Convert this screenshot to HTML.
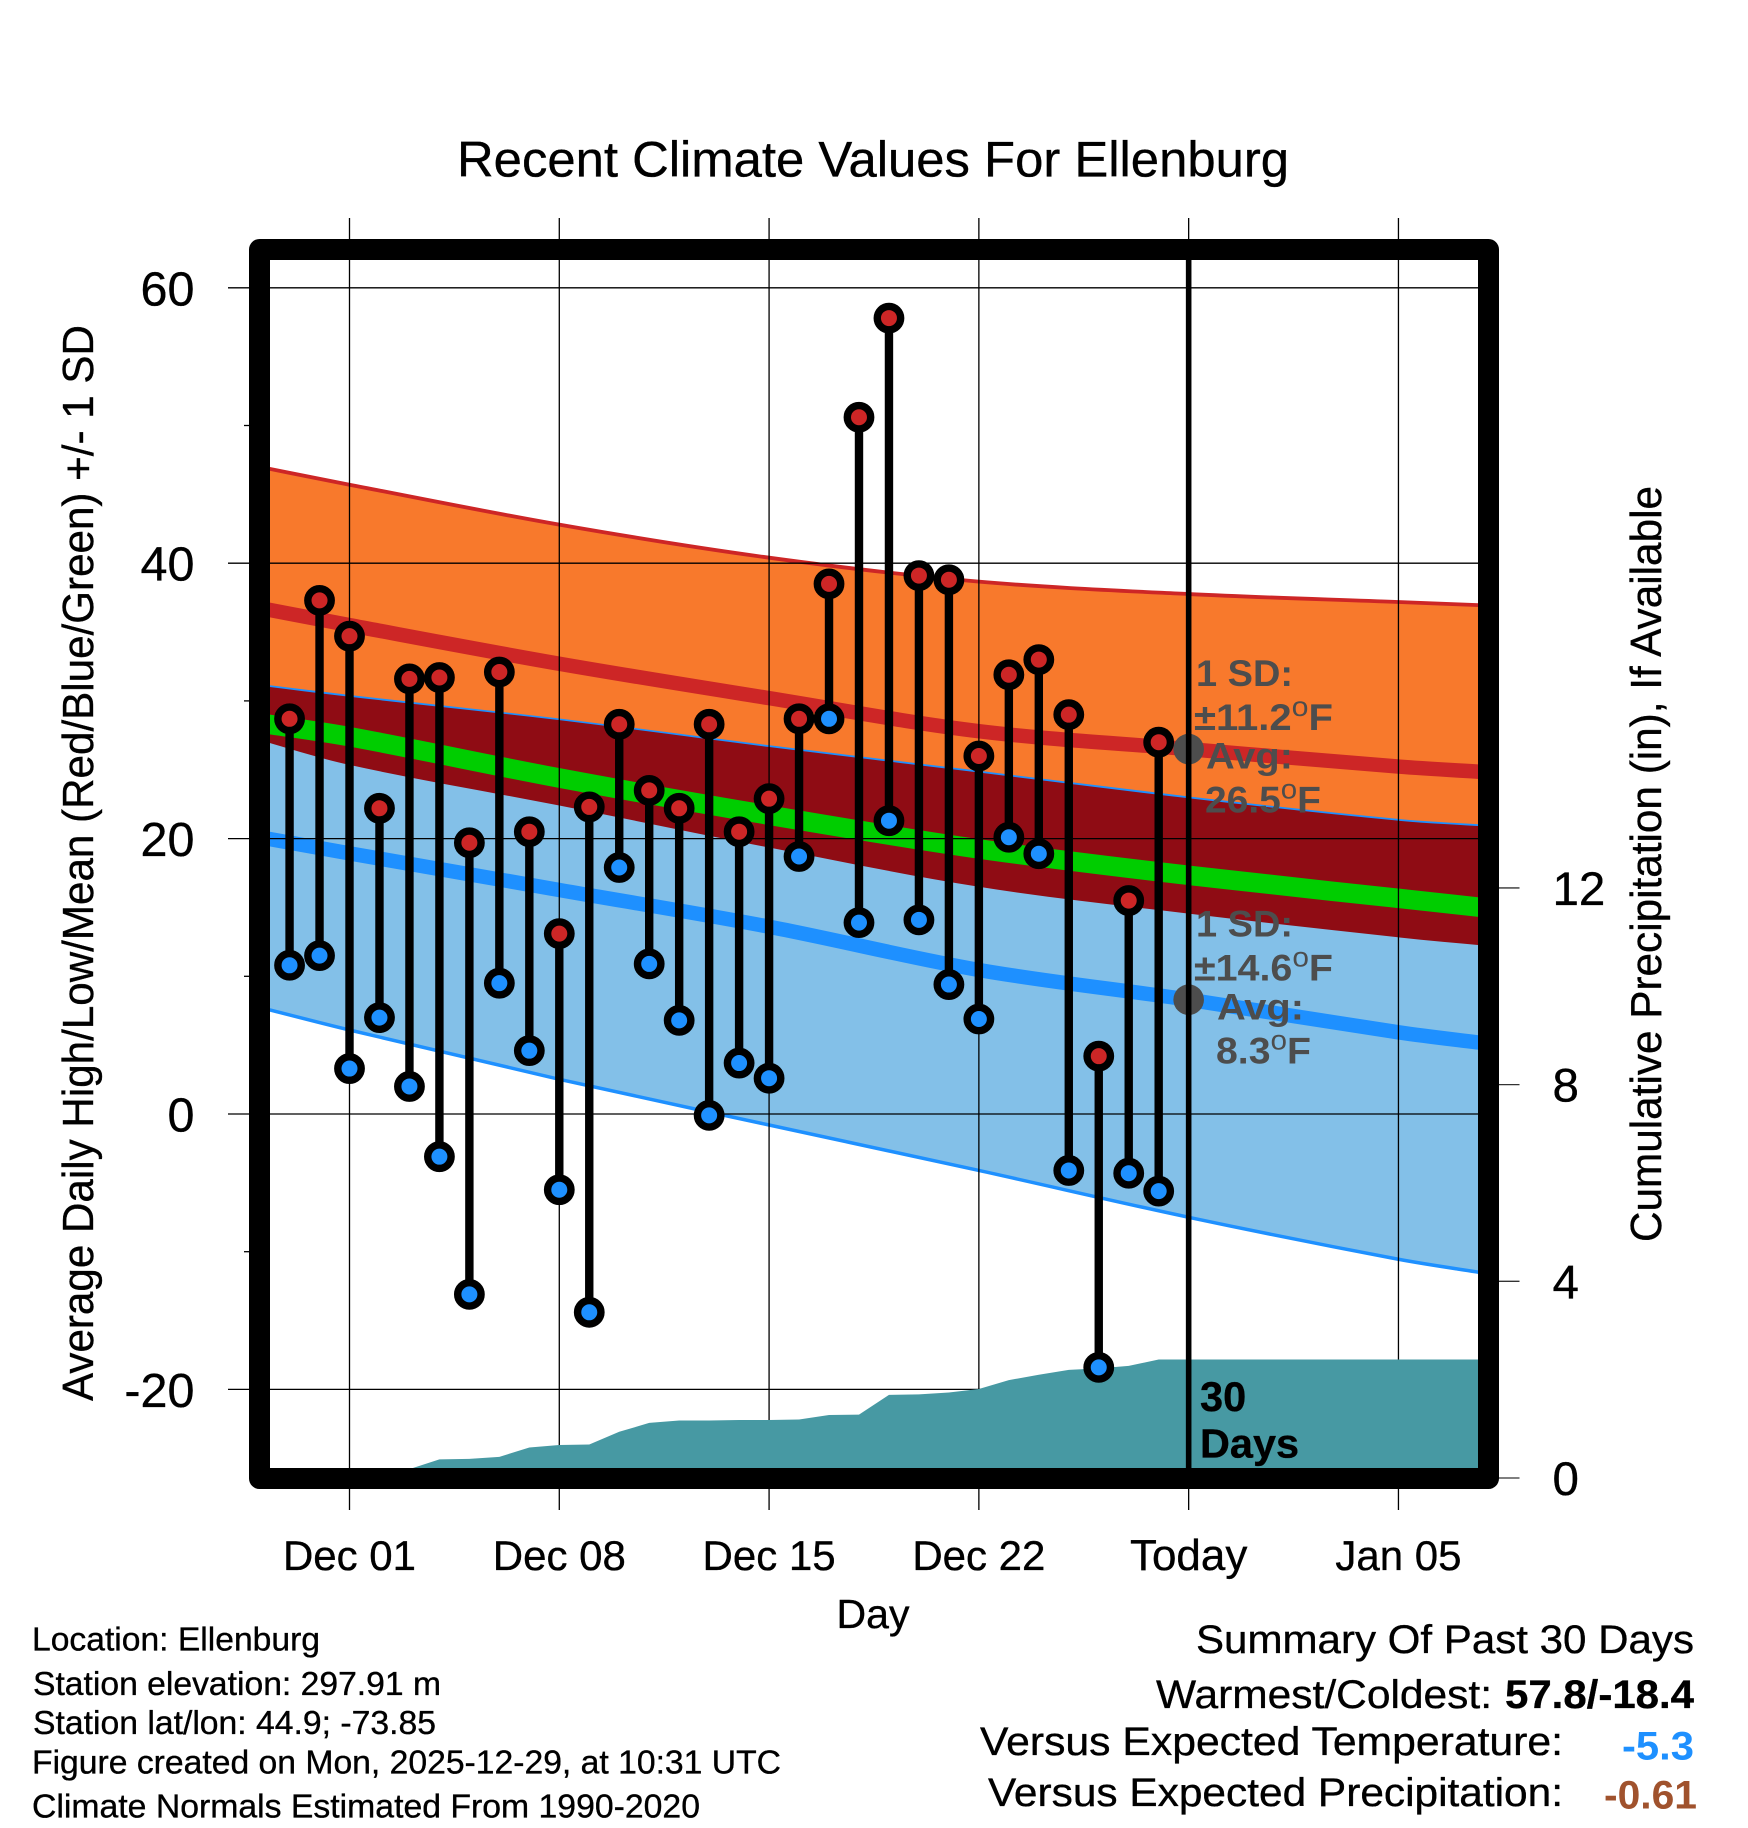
<!DOCTYPE html>
<html lang="en">
<head>
<meta charset="utf-8">
<title>Recent Climate Values For Ellenburg</title>
<style>
  html, body { margin: 0; padding: 0; background: #ffffff; }
  svg { display: block; position: absolute; left: 0; top: 0; }
  text { font-family: "Liberation Sans", Arial, sans-serif; fill: #000000; stroke: #000000; stroke-width: 0.35px; }
  .ann { font-weight: bold; fill: #4d4d4d; stroke: none; font-size: 37px; }
</style>
</head>
<body>
<svg id="chart" xmlns="http://www.w3.org/2000/svg" width="1748" height="1828" viewBox="0 0 1748 1828">
  <rect x="0" y="0" width="1748" height="1828" fill="#ffffff"></rect>
  <g id="layer-bands"></g>
  <g id="layer-grid"></g>
  <g id="layer-precip"></g>
  <g id="layer-dots"></g>
  <g id="layer-marks"></g>
  <g id="layer-today"></g>
  <rect x="259.5" y="249.5" width="1229" height="1229" fill="none" stroke="#000000" stroke-width="21" stroke-linejoin="round"></rect>
  <g id="layer-labels"></g>

  <text x="457" y="176.5" font-size="50" textLength="832" lengthAdjust="spacingAndGlyphs">Recent Climate Values For Ellenburg</text>
  <text x="93" y="1401" font-size="44" textLength="1076" lengthAdjust="spacingAndGlyphs" transform="rotate(-90 93 1401)">Average Daily High/Low/Mean (Red/Blue/Green) +/- 1 SD</text>
  <text x="1661" y="1242" font-size="44" textLength="756" lengthAdjust="spacingAndGlyphs" transform="rotate(-90 1661 1242)">Cumulative Precipitation (in), If Available</text>
  <text x="873" y="1628" font-size="41" text-anchor="middle">Day</text>

  <g>
    <text class="ann" x="1196" y="686" textLength="97" lengthAdjust="spacingAndGlyphs">1 SD:</text>
    <text class="ann" x="1194" y="730" textLength="139" lengthAdjust="spacingAndGlyphs">±11.2<tspan dy="-14" font-size="28" font-weight="normal">o</tspan><tspan dy="14">F</tspan></text>
    <text class="ann" x="1206" y="768.5" textLength="87" lengthAdjust="spacingAndGlyphs">Avg:</text>
    <text class="ann" x="1205" y="812.5" textLength="116" lengthAdjust="spacingAndGlyphs">26.5<tspan dy="-14" font-size="28" font-weight="normal">o</tspan><tspan dy="14">F</tspan></text>
  </g>
  <g>
    <text class="ann" x="1196" y="936.5" textLength="97" lengthAdjust="spacingAndGlyphs">1 SD:</text>
    <text class="ann" x="1194" y="980.5" textLength="139" lengthAdjust="spacingAndGlyphs">±14.6<tspan dy="-14" font-size="28" font-weight="normal">o</tspan><tspan dy="14">F</tspan></text>
    <text class="ann" x="1217" y="1019.5" textLength="87" lengthAdjust="spacingAndGlyphs">Avg:</text>
    <text class="ann" x="1216" y="1063.5" textLength="95" lengthAdjust="spacingAndGlyphs">8.3<tspan dy="-14" font-size="28" font-weight="normal">o</tspan><tspan dy="14">F</tspan></text>
  </g>

  <text x="1200" y="1411" font-size="41.5" font-weight="bold">30</text>
  <text x="1200" y="1457.5" font-size="41" font-weight="bold" textLength="99" lengthAdjust="spacingAndGlyphs">Days</text>

  <g>
    <text x="32" y="1650.5" font-size="33" textLength="288" lengthAdjust="spacingAndGlyphs">Location: Ellenburg</text>
    <text x="33" y="1695" font-size="33" textLength="408" lengthAdjust="spacingAndGlyphs">Station elevation: 297.91 m</text>
    <text x="33" y="1734" font-size="33" textLength="403" lengthAdjust="spacingAndGlyphs">Station lat/lon: 44.9; -73.85</text>
    <text x="32" y="1773.5" font-size="33" textLength="749" lengthAdjust="spacingAndGlyphs">Figure created on Mon, 2025-12-29, at 10:31 UTC</text>
    <text x="32" y="1817.5" font-size="33" textLength="668" lengthAdjust="spacingAndGlyphs">Climate Normals Estimated From 1990-2020</text>
  </g>

  <g>
    <text x="1196" y="1653" font-size="40" textLength="498" lengthAdjust="spacingAndGlyphs">Summary Of Past 30 Days</text>
    <text x="1156" y="1708" font-size="40" textLength="336" lengthAdjust="spacingAndGlyphs">Warmest/Coldest:</text>
    <text x="1505" y="1708" font-size="40" font-weight="bold" textLength="189" lengthAdjust="spacingAndGlyphs">57.8/-18.4</text>
    <text x="980" y="1755" font-size="40" textLength="583" lengthAdjust="spacingAndGlyphs">Versus Expected Temperature:</text>
    <text x="1622" y="1759.5" font-size="40" font-weight="bold" textLength="72" lengthAdjust="spacingAndGlyphs" style="fill:#1e90ff;stroke:none">-5.3</text>
    <text x="988" y="1806" font-size="40" textLength="575" lengthAdjust="spacingAndGlyphs">Versus Expected Precipitation:</text>
    <text x="1604" y="1808.5" font-size="40" font-weight="bold" textLength="93" lengthAdjust="spacingAndGlyphs" style="fill:#a0522d;stroke:none">-0.61</text>
  </g>
</svg>

<script>
// ---- data (days are counted from Dec 01 = 0) ----
const observedDays = [-2,-1,0,1,2,3,4,5,6,7,8,9,10,11,12,13,14,15,16,17,18,19,20,21,22,23,24,25,26,27];
const dailyHighs = [28.7,37.3,34.7,22.2,31.6,31.7,19.7,32.1,20.5,13.1,22.3,28.3,23.5,22.2,28.3,20.5,22.9,28.7,38.5,50.6,57.8,39.1,38.8,26.0,31.9,33.0,29.0,4.2,15.5,27.0];
const dailyLows = [10.8,11.5,3.3,7.0,2.0,-3.1,-13.1,9.5,4.6,-5.5,-14.4,17.9,10.9,6.8,-0.1,3.7,2.6,18.7,28.7,13.9,21.3,14.1,9.4,6.9,20.1,18.9,-4.1,-18.4,-4.3,-5.6];

const normalDays = [-3,0,7,14,21,28,35,38];
const highPlusSd = [47.0,45.7,42.8,40.4,38.66,37.76,37.18,36.93];
const highAverage = [36.75,35.5,32.7,30.2,27.8,26.5,25.23,24.82];
const highMinusSd = [27.15,25.35,22.4,19.35,16.5,14.55,12.83,12.2];
const lowPlusSd = [31.1,30.3,28.6,26.65,24.8,22.93,21.3,20.87];
const meanAverage = [28.4,27.4,24.4,21.7,19.25,17.33,15.66,14.95];
const lowAverage = [20.1,18.93,16.27,13.6,10.46,8.3,5.93,5.1];
const lowMinusSd = [7.75,6.1,2.52,-0.8,-4.1,-7.5,-10.55,-11.6];

const precipDays = [-3,1,2,3,4,5,6,7,8,9,10,11,12,13,14,15,16,17,18,19,20,21,22,23,24,25,26,27,38];
const precipTotals = [0,0,0.18,0.38,0.39,0.43,0.62,0.67,0.68,0.94,1.12,1.17,1.17,1.18,1.18,1.19,1.28,1.29,1.69,1.70,1.74,1.81,1.99,2.10,2.20,2.23,2.28,2.41,2.41];

const xTickDays = [0,7,14,21,28,35];
const xTickLabels = ["Dec 01","Dec 08","Dec 15","Dec 22","Today","Jan 05"];
const yMajorTicks = [60,40,20,0,-20];
const yMajorLabels = ["60","40","20","0","-20"];
const yMinorTicks = [50,30,10,-10];
const precipTicks = [12,8,4,0];
const precipTickLabels = ["12","8","4","0"];
const todayDay = 28;
const todayHighAvg = 26.5;
const todayLowAvg = 8.3;

// ---- axis functions ----
function xScale(day) { return 349.5 + 29.97 * day; }
function yScale(temp) { return 1114 - 13.77 * temp; }
function yPrecip(inches) { return 1478 - 49.17 * inches; }

// ---- helpers ----
const NS = 'http://www.w3.org/2000/svg';
function make(tag, parentId) {
  const el = document.createElementNS(NS, tag);
  document.getElementById(parentId).appendChild(el);
  return el;
}
function geom(el, props) {
  Object.keys(props).forEach(function (k) { el.setAttribute(k, props[k]); });
  return el;
}
// Smooth curve through the read values (Hermite tangents converted to Bezier handles).
function slopeAt(days, vals, i) {
  const a = Math.max(i - 1, 0);
  const b = Math.min(i + 1, days.length - 1);
  return (vals[b] - vals[a]) / (days[b] - days[a]);
}
function curveSegments(days, vals, backwards) {
  let out = '';
  const n = days.length;
  for (let k = 0; k < n - 1; k++) {
    const i = backwards ? n - 1 - k : k;
    const j = backwards ? i - 1 : i + 1;
    const dx = (days[j] - days[i]) / 3;
    const c1x = days[i] + dx;
    const c1y = vals[i] + slopeAt(days, vals, i) * dx;
    const c2x = days[j] - dx;
    const c2y = vals[j] - slopeAt(days, vals, j) * dx;
    out += ' C' + xScale(c1x).toFixed(2) + ' ' + yScale(c1y).toFixed(2) +
           ' ' + xScale(c2x).toFixed(2) + ' ' + yScale(c2y).toFixed(2) +
           ' ' + xScale(days[j]).toFixed(2) + ' ' + yScale(vals[j]).toFixed(2);
  }
  return out;
}
function linePath(days, vals) {
  return 'M' + xScale(days[0]).toFixed(2) + ' ' + yScale(vals[0]).toFixed(2) + curveSegments(days, vals, false);
}
function bandPath(days, upper, lower) {
  const last = days.length - 1;
  return linePath(days, upper) +
    ' L' + xScale(days[last]).toFixed(2) + ' ' + yScale(lower[last]).toFixed(2) +
    curveSegments(days, lower, true) + ' Z';
}

// ---- bands ----
const orangeBand = make('path', 'layer-bands');


geom(orangeBand, { d: bandPath(normalDays, highPlusSd, highMinusSd), fill: '#f8792c' });

const highUpperLine = make('path', 'layer-bands');


geom(highUpperLine, { d: linePath(normalDays, highPlusSd), fill: 'none', stroke: '#cd2626', 'stroke-width': 3.8 });

const blueBand = make('path', 'layer-bands');


geom(blueBand, { d: bandPath(normalDays, lowPlusSd, lowMinusSd), fill: '#83c0e8', stroke: '#1e90ff', 'stroke-width': 3.5 });

const overlapBand = make('path', 'layer-bands');


geom(overlapBand, { d: bandPath(normalDays, lowPlusSd, highMinusSd), fill: '#8f0c14' });

const highAvgLine = make('path', 'layer-bands');


geom(highAvgLine, { d: linePath(normalDays, highAverage), fill: 'none', stroke: '#cd2626', 'stroke-width': 14.5 });

const meanLine = make('path', 'layer-bands');


geom(meanLine, { d: linePath(normalDays, meanAverage), fill: 'none', stroke: '#00cd00', 'stroke-width': 19.5 });

const lowAvgLine = make('path', 'layer-bands');


geom(lowAvgLine, { d: linePath(normalDays, lowAverage), fill: 'none', stroke: '#1e90ff', 'stroke-width': 14.5 });

// ---- grid and ticks ----
xTickDays.forEach(function (d, i) {
  const grid = make('line', 'layer-grid');
  
  
  geom(grid, { x1: xScale(d), x2: xScale(d), y1: 218, y2: 1510, stroke: '#000', 'stroke-width': 1.3 });
  const label = make('text', 'layer-labels');
  
  
  geom(label, { x: xScale(d), y: 1570, 'font-size': xTickLabels[i] === 'Today' ? 44 : 42, 'text-anchor': 'middle' });
  label.textContent = xTickLabels[i];
});

yMajorTicks.forEach(function (t, i) {
  const grid = make('line', 'layer-grid');
  
  
  geom(grid, { x1: 228, x2: 1480, y1: yScale(t), y2: yScale(t), stroke: '#000', 'stroke-width': 1.3 });
  const label = make('text', 'layer-labels');
  
  
  geom(label, { x: 194.5, y: yScale(t) + 17.5, 'font-size': 48.5, 'text-anchor': 'end' });
  label.textContent = yMajorLabels[i];
});

yMinorTicks.forEach(function (t) {
  const tick = make('line', 'layer-grid');
  
  
  geom(tick, { x1: 244, x2: 252, y1: yScale(t), y2: yScale(t), stroke: '#000', 'stroke-width': 1.3 });
});

precipTicks.forEach(function (p, i) {
  const tick = make('line', 'layer-grid');
  
  
  geom(tick, { x1: 1497, x2: 1519.5, y1: yPrecip(p), y2: yPrecip(p), stroke: '#333', 'stroke-width': 1.3 });
  const label = make('text', 'layer-labels');
  
  
  geom(label, { x: 1552.5, y: yPrecip(p) + 17, 'font-size': 47.5 });
  label.textContent = precipTickLabels[i];
});

// ---- precipitation area ----
let precipD = 'M' + xScale(precipDays[0]) + ' ' + yPrecip(0);
precipDays.forEach(function (d, i) {
  precipD += ' L' + xScale(d).toFixed(2) + ' ' + yPrecip(precipTotals[i]).toFixed(2);
});
precipD += ' L' + xScale(precipDays[precipDays.length - 1]) + ' ' + yPrecip(0) + ' Z';
const precipArea = make('path', 'layer-precip');


geom(precipArea, { d: precipD, fill: '#4799a3' });

// ---- today's average dots (under the today line) ----
const highDot = make('circle', 'layer-dots');


geom(highDot, { cx: xScale(todayDay), cy: yScale(todayHighAvg), r: 15.3, fill: '#4d4d4d' });

const lowDot = make('circle', 'layer-dots');


geom(lowDot, { cx: xScale(todayDay), cy: yScale(todayLowAvg), r: 15.3, fill: '#4d4d4d' });

// ---- daily stems and markers ----
observedDays.forEach(function (d, i) {
  const stem = make('line', 'layer-marks');
  
  
  geom(stem, { x1: xScale(d), x2: xScale(d), y1: yScale(dailyHighs[i]), y2: yScale(dailyLows[i]), stroke: '#000', 'stroke-width': 8.4 });
});
observedDays.forEach(function (d, i) {
  const hi = make('circle', 'layer-marks');
  
  
  geom(hi, { cx: xScale(d), cy: yScale(dailyHighs[i]), r: 11.7, fill: '#cd2626', stroke: '#000', 'stroke-width': 7.4 });
  const lo = make('circle', 'layer-marks');
  
  
  geom(lo, { cx: xScale(d), cy: yScale(dailyLows[i]), r: 11.7, fill: '#1e90ff', stroke: '#000', 'stroke-width': 7.4 });
});

// ---- today line ----
const todayLine = make('line', 'layer-today');


geom(todayLine, { x1: xScale(todayDay), x2: xScale(todayDay), y1: 255, y2: 1472, stroke: '#000', 'stroke-width': 5.6 });
</script>
</body>
</html>
